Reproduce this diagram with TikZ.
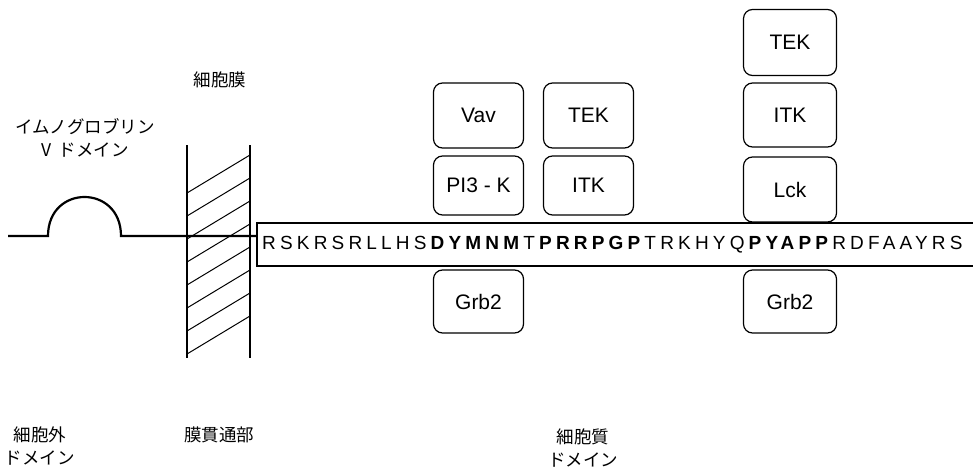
\documentclass[tikz,border=0pt]{standalone}
\usepackage{fontspec}
\setmainfont{Liberation Sans}
\newfontfamily\jpfont{Noto Sans CJK JP}
\newfontfamily\seqfont[LetterSpace=22]{Liberation Sans}
\tikzset{
  pbox/.style={draw, rounded corners=9pt, line width=1.2pt, minimum width=90pt,
    minimum height=64pt, inner sep=0pt, font=\fontsize{21}{21}\selectfont},
  jlabel/.style={align=center, inner sep=0pt, font=\jpfont\fontsize{17.5}{23}\selectfont},
  mol/.style={line width=2.2pt},
  memb/.style={line width=1.6pt},
  hatch/.style={line width=1pt}
}
\begin{document}
\begin{tikzpicture}[x=1pt,y=-1pt]
\useasboundingbox[fill=white] (0,0) rectangle (973,471);
% membrane
\coordinate (mTL) at (187,145); \coordinate (mBL) at (187,358);
\coordinate (mTR) at (250,145); \coordinate (mBR) at (250,358);
\draw[memb] (mTL) -- (mBL);
\draw[memb] (mTR) -- (mBR);
\foreach \k in {0,...,7}{
  \draw[hatch] (187,{193+23*\k}) -- (250,{155+23*\k});
}
% molecule line with Ig domain
\coordinate (lstart) at (8,236);
\coordinate (b1) at (48,236);
\coordinate (b2) at (121,236);
\coordinate (bl) at (257,236);
\draw[mol] (lstart) -- (b1) .. controls (48,184) and (121,184) .. (b2) -- (bl);
% sequence box (open to the right)
\coordinate (sTR) at (975,223); \coordinate (sTL) at (257,223);
\coordinate (sBL) at (257,266); \coordinate (sBR) at (975,266);
\draw[line width=1.2pt] (sTR) -- (sTL) -- (sBL) -- (sBR);
\node[anchor=base west, inner sep=0pt] (seq) at (262,249)
  {\seqfont\fontsize{19}{19}\selectfont RSKRSRLLHS\textbf{DYMNM}T\textbf{PRRPGP}TRKHYQ\textbf{PYAPP}RDFAAYRS};
% protein boxes
\node[pbox, minimum height=65pt] (vav) at (478.5,115.5) {Vav};
\node[pbox, minimum height=59pt] (pi3k) at (478.5,185.5) {PI3 - K};
\node[pbox, minimum height=63pt] (grb2a) at (478.5,301.5) {Grb2};
\node[pbox, minimum height=65pt] (tek1) at (588.5,115.5) {TEK};
\node[pbox, minimum height=59pt] (itk1) at (588.5,185.5) {ITK};
\node[pbox, minimum width=93pt, minimum height=66pt] (tek2) at (790,42.5) {TEK};
\node[pbox, minimum width=93pt, minimum height=64pt] (itk2) at (790,115) {ITK};
\node[pbox, minimum width=93pt, minimum height=65pt] (lck) at (790,189.5) {Lck};
\node[pbox, minimum width=93pt, minimum height=63pt] (grb2b) at (790,301.5) {Grb2};
% labels
\node[jlabel] (ig) at (85,138) {イムノグロブリン\\V\hspace{0.4em}ドメイン};
\node[jlabel] (cm) at (220,80) {細胞膜};
\node[jlabel] (ex) at (40,446) {細胞外\\ドメイン};
\node[jlabel, anchor=north] (tm) at (219,427) {膜貫通部};
\node[jlabel] (cy) at (583,448) {細胞質\\ドメイン};
\end{tikzpicture}
\end{document}
